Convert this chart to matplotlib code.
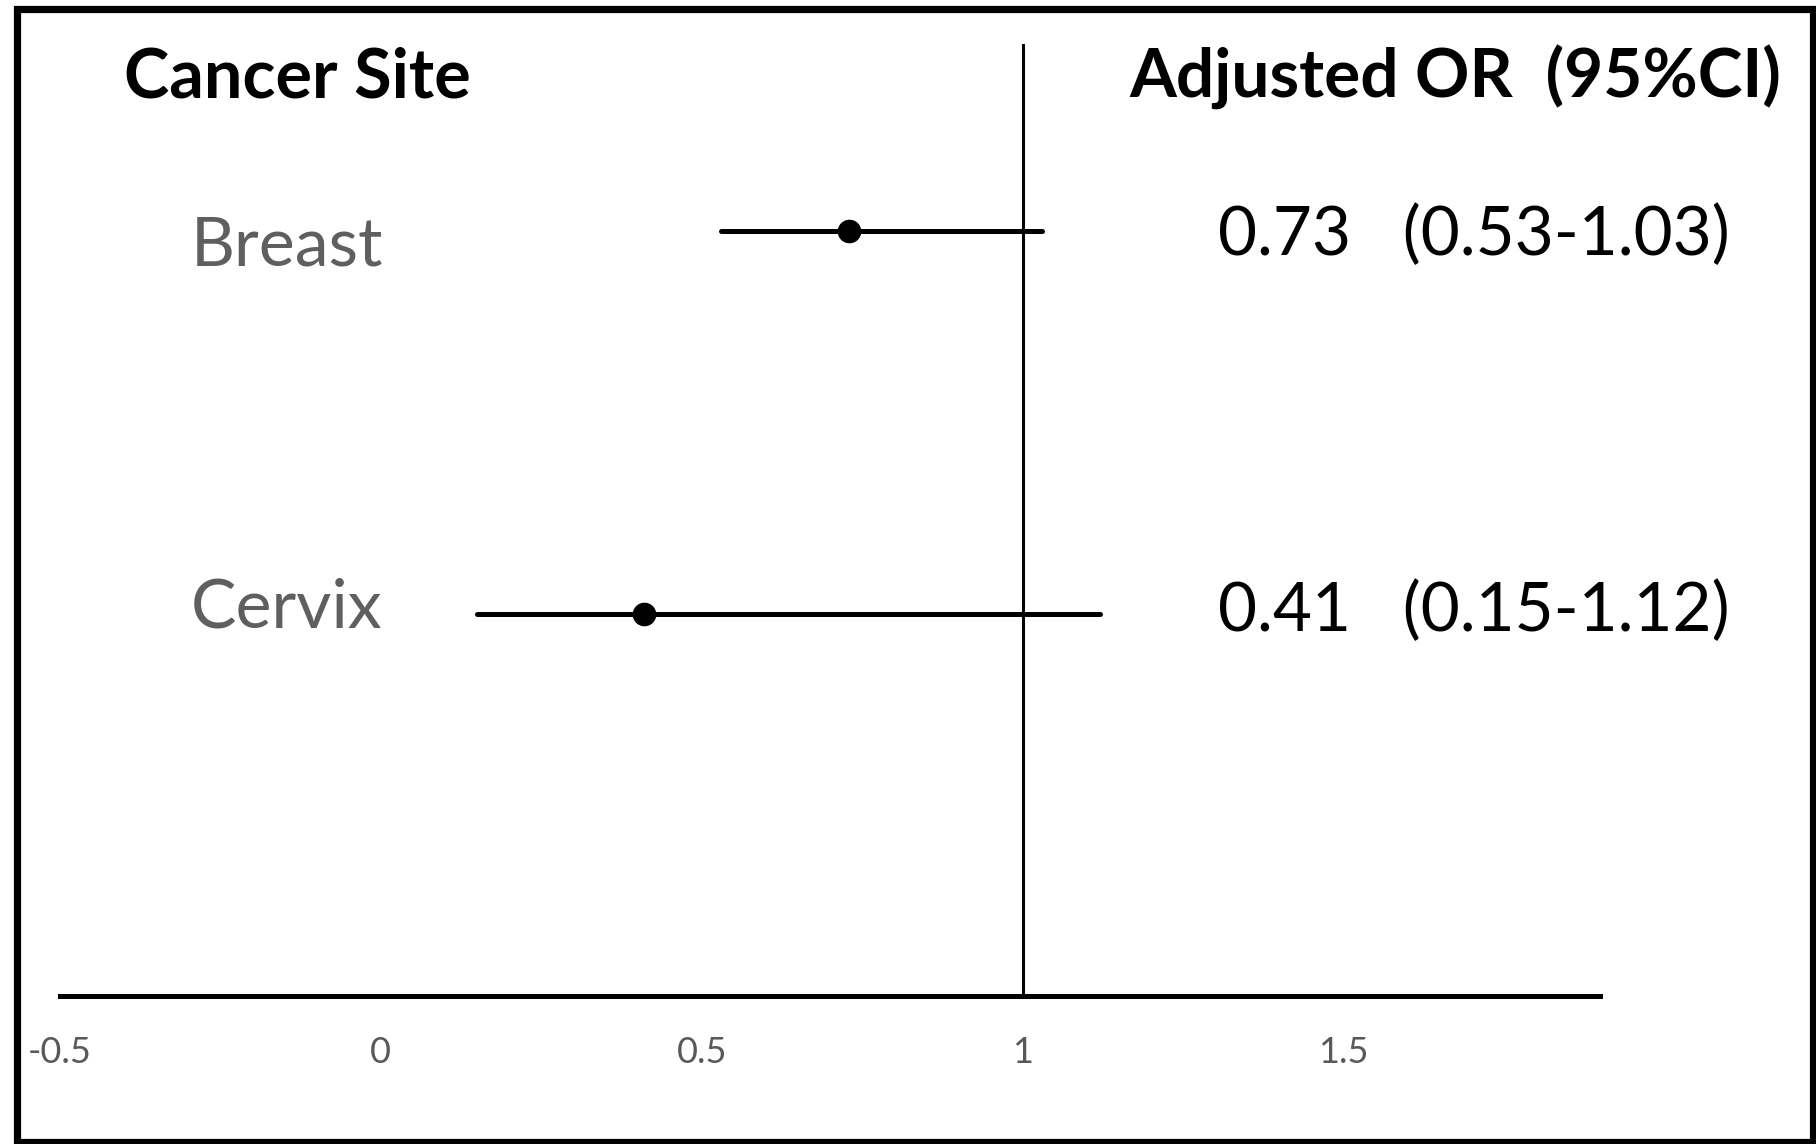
import matplotlib
matplotlib.use("Agg")
import matplotlib.pyplot as plt
from matplotlib.patches import Rectangle

# ---- data ----
sites = ["Breast", "Cervix"]
odds_ratio = [0.73, 0.41]
ci_low = [0.53, 0.15]
ci_high = [1.03, 1.12]
or_labels = ["0.73   (0.53-1.03)", "0.41   (0.15-1.12)"]
row_pos = [2, 1]
x_ticks = [-0.5, 0, 0.5, 1, 1.5]
x_tick_labels = ["-0.5", "0", "0.5", "1", "1.5"]

W, H = 1816, 1144
dpi = 100
fig = plt.figure(figsize=(W / dpi, H / dpi), dpi=dpi)
fig.patch.set_facecolor("white")

# axes placed in pixels
ax_left, ax_right = 60, 1600
ax_top, ax_bot = 44, 996
ax = fig.add_axes([ax_left / W, (H - ax_bot) / H, (ax_right - ax_left) / W, (ax_bot - ax_top) / H])
ax.set_xlim(-0.5, 1.9)
ax.set_ylim(0, 2.49)
ax.set_facecolor("none")
for s in ["top", "right", "left"]:
    ax.spines[s].set_visible(False)
ax.spines["bottom"].set_linewidth(3.6)
ax.spines["bottom"].set_color("black")
ax.set_yticks([])
ax.set_xticks(x_ticks)
ax.set_xticklabels(x_tick_labels, fontfamily="Lato", fontsize=26, color="#595959")
ax.tick_params(axis="x", length=0, pad=29)

# reference line at 1
ax.axvline(1, color="black", lw=2.2, zorder=1)

# error bars and points
for y, o, lo, hi in zip(row_pos, odds_ratio, ci_low, ci_high):
    ax.plot([lo, hi], [y, y], color="black", lw=3.6, solid_capstyle="round", zorder=2)
    ax.plot([o], [y], marker="o", color="black", markersize=16, zorder=3)

# texts (pixel layout, y measured from top)
name_baselines = [266, 628]
lab_baselines = [255, 631]
for nb, lb, name, lab in zip(name_baselines, lab_baselines, sites, or_labels):
    fig.text(191 / W, 1 - nb / H, name, fontfamily="Lato", fontsize=49,
             color="#5f5f5f", va="baseline", ha="left")
    fig.text(1218 / W, 1 - lb / H, lab, fontfamily="Lato", fontsize=48.5,
             color="black", va="baseline", ha="left")

fig.text(124 / W, 1 - 98 / H, "Cancer Site", fontfamily="Lato", fontweight="bold",
         fontsize=49.2, color="black", va="baseline", ha="left")
fig.text(1129 / W, 1 - 98 / H, "Adjusted OR  (95%CI)", fontfamily="Lato", fontweight="bold",
         fontsize=48.6, color="black", va="baseline", ha="left")

# outer frame
fig.patches.append(Rectangle((16.5 / W, 2 / H), (1813 - 16.5) / W, (1142 - 9) / H,
                             transform=fig.transFigure, fill=False, edgecolor="black",
                             linewidth=5.2, zorder=10))

fig.savefig("out.png", dpi=dpi, facecolor="white")
